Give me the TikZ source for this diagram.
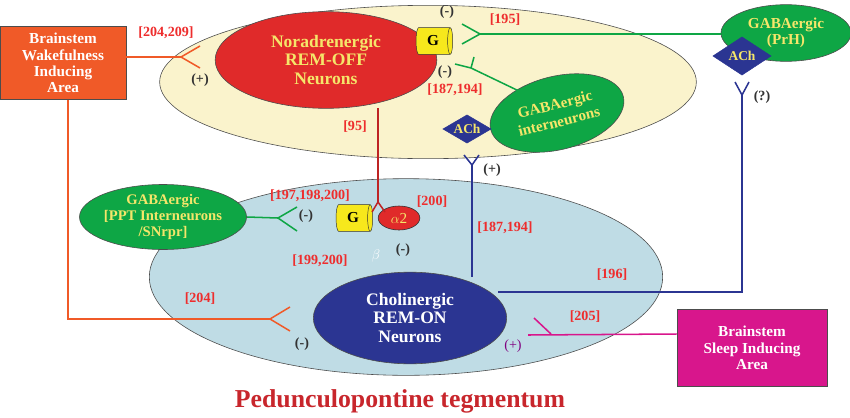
\documentclass[tikz,border=0pt]{standalone}
\usepackage{fontspec}
\setmainfont{Liberation Serif}
\usetikzlibrary{shapes.geometric}
\definecolor{cream}{HTML}{FAF3CC}
\definecolor{pale}{HTML}{BFDCE5}
\definecolor{nred}{HTML}{E02A2A}
\definecolor{ngreen}{HTML}{0EA645}
\definecolor{nblue}{HTML}{2B3592}
\definecolor{ltxt}{HTML}{F5E66A}
\definecolor{orng}{HTML}{F05A28}
\definecolor{pink}{HTML}{D8168C}
\definecolor{refc}{HTML}{EE2D2D}
\definecolor{gyel}{HTML}{F7E81C}
\definecolor{titlec}{HTML}{C8262C}
\tikzset{
 ell/.style={ellipse,draw=black!70,line width=0.5pt,inner sep=0pt},
 box/.style={rectangle,draw=black!70,line width=0.6pt,align=center,font=\bfseries\fontsize{13}{14}\selectfont,text=white},
 ref/.style={font=\bfseries\fontsize{12}{13}\selectfont,text=refc},
 sgn/.style={font=\bfseries\fontsize{12}{13}\selectfont,text=black!80},
 cyl/.style={cylinder,shape border rotate=0,aspect=0.5,fill=gyel,draw=black!80,minimum width=0.8cm,minimum height=1.1cm,inner sep=0pt,font=\bfseries\fontsize{13}{13}\selectfont},
 ach/.style={diamond,fill=nblue,draw=nblue,inner sep=0pt,aspect=1.8,text=ltxt,font=\bfseries\fontsize{11.5}{12}\selectfont},
 syn/.style={line width=1.3pt},
}
\begin{document}
\begin{tikzpicture}[x=0.03cm,y=-0.03cm]
\useasboundingbox (0,0) rectangle (850,417);
\node[ell,fill=cream,minimum width=16.1cm,minimum height=4.6cm] (lc) at (428,82) {};
\node[ell,fill=pale,minimum width=15.4cm,minimum height=5.9cm] (ppt) at (406,277) {};
\node[ell,fill=nred,minimum width=6.65cm,minimum height=2.9cm,align=center,text=ltxt,font=\bfseries\fontsize{15}{16}\selectfont] (ne) at (326,60) {Noradrenergic\\REM-OFF\\Neurons};
\node[cyl] (g1) at (433,41) {G};
\node[box,fill=orng,minimum width=3.78cm,minimum height=2.2cm] (wake) at (63,63) {Brainstem\\Wakefulness\\Inducing\\Area};
\node[box,fill=pink,minimum width=4.5cm,minimum height=2.3cm] (sleep) at (752,348) {Brainstem\\Sleep Inducing\\Area};
\node[ell,fill=ngreen,minimum width=3.9cm,minimum height=1.7cm,align=center,text=ltxt,font=\bfseries\fontsize{13}{14}\selectfont] (prh) at (786,33) {GABAergic\\(PrH)};
\node[ach,minimum width=1.75cm,minimum height=1.15cm] (ach2) at (742,56) {ACh};
\node[ell,fill=ngreen,minimum width=4.1cm,minimum height=2.2cm,rotate=14,align=center,text=ltxt,font=\bfseries\fontsize{13}{15}\selectfont] (gint) at (557,113) {GABAergic\\interneurons};
\node[ach,minimum width=1.45cm,minimum height=0.85cm] (ach1) at (467,129) {ACh};
\node[ell,fill=ngreen,minimum width=4.9cm,minimum height=1.95cm,align=center,text=ltxt,font=\bfseries\fontsize{12.5}{13.5}\selectfont] (gppt) at (163,217) {GABAergic\\{[PPT Interneurons}\\/SNrpr]};
\node[cyl] (g2) at (353,218) {G};
\node[ell,fill=nred,draw=black!80,minimum width=1.25cm,minimum height=0.72cm,text=ltxt,font=\fontsize{13}{13}\selectfont] (a2) at (399,218) {$\alpha$2};
\node[ell,fill=nblue,minimum width=5.8cm,minimum height=2.75cm,align=center,text=white,font=\bfseries\fontsize{15}{16}\selectfont] (ach) at (410,318) {Cholinergic\\REM-ON\\Neurons};
\node[font=\bfseries\fontsize{22}{23}\selectfont,text=titlec] (title) at (400,401) {Pedunculopontine tegmentum};
\coordinate (o1) at (181,57);
\draw[orng,syn] (wake.east|-o1) -- (o1);
\draw[orng,syn] (200,46) -- (o1) -- (200,68);
\coordinate (o2) at (270,319);
\draw[orng,syn] (68,100) -- (68,319) -- (o2);
\draw[orng,syn] (290,307) -- (o2) -- (290,331);
\coordinate (gf) at (480,34);
\draw[ngreen,syn] (gf) -- (prh.west|-gf);
\draw[ngreen,syn] (462,24) -- (gf) -- (462,44);
\coordinate (gf2) at (471,68);
\draw[ngreen,syn] (455,64) -- (gf2) -- (521,92);
\draw[ngreen,syn] (gf2) -- (474,57);
\coordinate (gf3) at (278,218);
\draw[ngreen,syn] (gppt.east) -- (gf3);
\draw[ngreen,syn] (297,207) -- (gf3) -- (297,231);
\coordinate (rf) at (378,202);
\draw[nred!85!black,syn] (378,108) -- (rf);
\draw[nred!85!black,syn] (372,212) -- (rf) -- (385,212);
\coordinate (bf) at (472,165);
\draw[nblue,syn] (464,155) -- (bf) -- (479,155);
\draw[nblue,syn] (bf) -- (472,277);
\coordinate (bf2) at (742,95);
\draw[nblue,syn] (735,82) -- (bf2) -- (749,82);
\draw[nblue,syn] (bf2) -- (742,292) -- (498,292);
\coordinate (pf) at (551,334);
\draw[pink,syn] (sleep.west|-pf) -- (528,335);
\draw[pink,syn] (534,318) -- (pf);
\node[ref] at (166,33) {[204,209]};
\node[sgn] at (200,80) {(+)};
\node[sgn] at (447,12) {(-)};
\node[ref] at (505,20) {[195]};
\node[sgn] at (445,72) {(-)};
\node[ref] at (455,90) {[187,194]};
\node[sgn] at (762,97) {(?)};
\node[ref] at (355,127) {[95]};
\node[sgn] at (492,170) {(+)};
\node[ref] at (310,196) {[197,198,200]};
\node[ref] at (432,202) {[200]};
\node[sgn] at (306,216) {(-)};
\node[text=white,font=\fontsize{13}{13}\selectfont] at (376,256) {$\beta$};
\node[sgn] at (403,250) {(-)};
\node[ref] at (320,261) {[199,200]};
\node[ref] at (505,228) {[187,194]};
\node[ref] at (612,275) {[196]};
\node[ref] at (200,299) {[204]};
\node[sgn] at (302,344) {(-)};
\node[ref] at (585,317) {[205]};
\node[font=\fontsize{12}{13}\selectfont,text=violet] at (513,346) {(+)};
\end{tikzpicture}
\end{document}
